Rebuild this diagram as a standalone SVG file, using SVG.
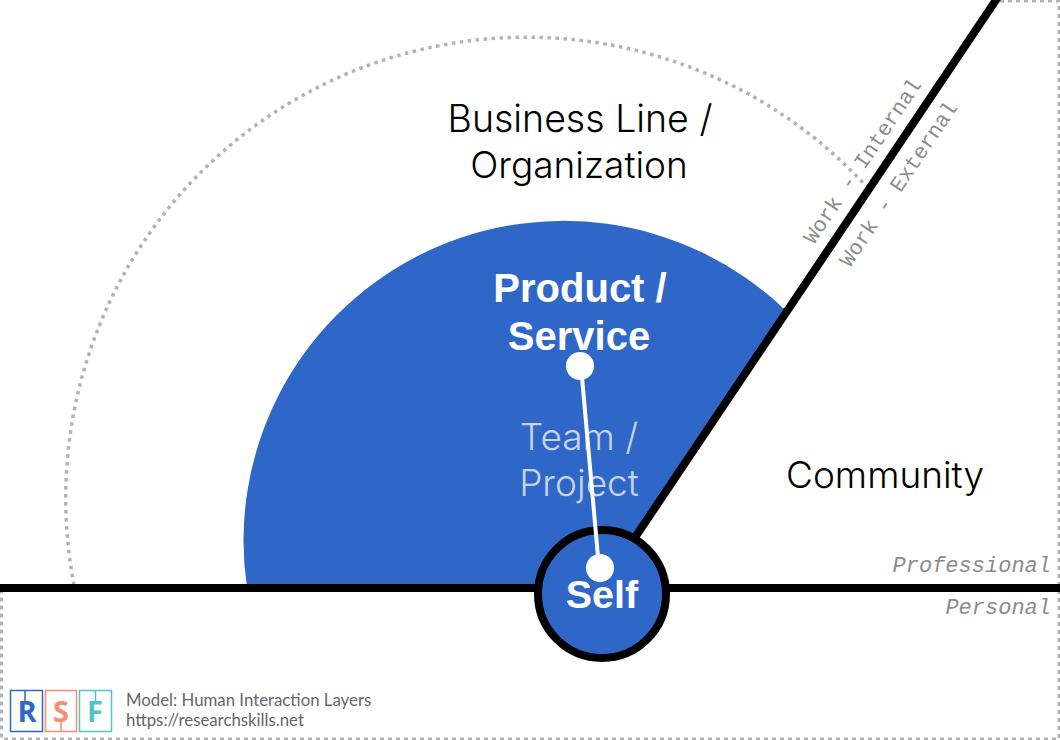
<svg xmlns="http://www.w3.org/2000/svg" width="1060" height="740" viewBox="0 0 1060 740">
<style>
.big{font-family:"Inter","Liberation Sans",sans-serif;font-weight:300;font-size:37px;text-anchor:middle;fill:#000}
.bold{font-family:"Liberation Sans",sans-serif;font-weight:700;font-size:40px;text-anchor:middle;fill:#fff}
.mono{font-family:"Liberation Mono",monospace;font-size:21.500px;fill:#8c8c8c}
.it{font-style:italic;text-anchor:end;font-size:22px}
.cap{font-family:"Lato","Open Sans",sans-serif;font-weight:400;font-size:16.800px;fill:#666}
.logo{font-family:"Open Sans","Liberation Sans",sans-serif;font-weight:700;font-size:29px;text-anchor:middle}
.dash{fill:none;stroke:#b3b3b3;stroke-width:3}
.heavy{fill:none;stroke:#000;stroke-width:8}
</style>
<rect width="1060" height="740" fill="#fff"/>
<g id="frame">
<path class="dash" stroke-dasharray="4 4" d="M1000 1H1059V739H1.500V592"/>
</g>
<g id="node-business-line">
<path class="dash" style="stroke-width:3.500" stroke-dasharray="3.500 4.500" d="M74 585A461 461 0 0 1 865 185"/>
<text class="big" x="580" y="132" style="font-size:37.500px">Business Line /</text>
<text class="big" x="579" y="178">Organization</text>
</g>
<g id="node-product-service">
<path d="M247 588A320 320 0 0 1 783 308L789 308L636 536L602 588Z" fill="#2e67c8"/>
<text class="bold" x="580" y="302">Product /</text>
<text class="bold" x="579" y="350">Service</text>
</g>
<g id="node-team-project">
<text class="big" x="579" y="450" style="fill:#c9d3e6">Team /</text>
<text class="big" x="579" y="496" style="fill:#c9d3e6">Project</text>
</g>
<g id="node-community">
<text class="big" x="885" y="488">Community</text>
</g>
<g id="connectors">
<path class="heavy" d="M0 588H540M665 588H1060M636 536L998 -3"/>
</g>
<g id="node-self">
<circle cx="602" cy="594" r="64" fill="#2e67c8" stroke="#000" stroke-width="8"/>
<text class="bold" x="602" y="608" style="font-size:39.500px">Self</text>
</g>
<g id="link">
<path d="M581 366L599 568" stroke="#fff" stroke-width="4" fill="none"/>
<circle cx="580" cy="366" r="14" fill="#fff"/>
<circle cx="600" cy="568" r="14" fill="#fff"/>
</g>
<g id="labels">
<text class="mono" transform="translate(814 245) rotate(-56)">Work - Internal</text>
<text class="mono" transform="translate(850 268) rotate(-56)">Work - External</text>
<text class="mono it" x="1051" y="572">Professional</text>
<text class="mono it" x="1051" y="614">Personal</text>
</g>
<g id="logo">
<g fill="none" stroke-width="1.500">
<rect x="10.500" y="690.500" width="32" height="41" stroke="#2e67c8"/>
<path d="M25 690.500V702" stroke="#2e67c8"/>
<rect x="45.500" y="690.500" width="31" height="41" stroke="#fa8a70"/>
<path d="M61 720V731" stroke="#fa8a70"/>
<rect x="79.500" y="690.500" width="32" height="41" stroke="#4ec6c8"/>
<path d="M95.500 690.500V702" stroke="#4ec6c8"/>
</g>
<text class="logo" x="27" y="722" fill="#2e67c8">R</text>
<text class="logo" x="61" y="722" fill="#fa8a70">S</text>
<text class="logo" x="95" y="722" fill="#4ec6c8">F</text>
<text class="cap" x="126" y="706">Model: Human Interaction Layers</text>
<text class="cap" x="126" y="726">https://researchskills.net</text>
</g>
</svg>
